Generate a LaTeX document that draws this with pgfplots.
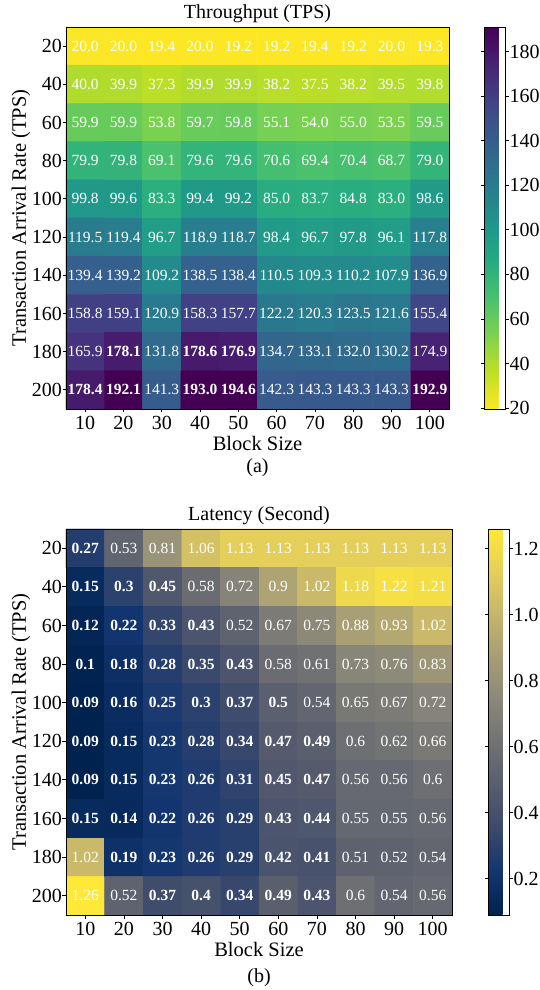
\documentclass[border=0pt]{standalone}
\usepackage{pgfplots}
\usepackage{pgfplotstable}
\usepackage{fontspec}
\setmainfont{Liberation Serif}
\pgfplotsset{compat=1.18}
\pgfkeys{/pgf/number format/assume math mode=true}

\pgfplotsset{
  colormap={viridisr}{rgb255=(253,231,37) rgb255=(189,223,38) rgb255=(122,209,81) rgb255=(68,191,112) rgb255=(34,168,132) rgb255=(33,145,140) rgb255=(42,120,142) rgb255=(53,95,141) rgb255=(65,68,135) rgb255=(72,36,117) rgb255=(68,1,84)},
  colormap={cividis}{rgb255=(0,34,78) rgb255=(18,53,112) rgb255=(59,73,108) rgb255=(87,93,109) rgb255=(112,113,115) rgb255=(138,135,121) rgb255=(166,157,117) rgb255=(196,181,108) rgb255=(228,207,91) rgb255=(254,232,56)},
  hm/.style={
    scale only axis,
    anchor=south west,
    xmin=5, xmax=105, ymin=-210, ymax=-10,
    enlargelimits=false,
    axis on top,
    xtick={10,20,30,40,50,60,70,80,90,100},
    ytick={-200,-180,-160,-140,-120,-100,-80,-60,-40,-20},
    yticklabels={200,180,160,140,120,100,80,60,40,20},
    tick pos=left,
    tick align=outside,
    major tick length=3.5pt,
    major tick style={black, line width=0.8pt},
    axis line style={black, line width=0.8pt},
    tick label style={font=\fontsize{20}{24}\selectfont, inner sep=0pt},
    xticklabel style={yshift=-3.2pt},
    yticklabel style={xshift=-0.5pt},
    label style={font=\fontsize{20.5}{24}\selectfont},
    every axis title shift=0pt,
    title style={font=\fontsize{20}{24}\selectfont, at={(axis description cs:0.5,1)}, anchor=base, yshift=8pt},
    xlabel={Block Size},
    ylabel={Transaction Arrival Rate (TPS)},
    colorbar,
  },
  cellnormal/.style={
    only marks, mark=*, mark size=0pt, mark options={draw=none, fill=none},
    point meta=explicit symbolic,
    restrict expr to domain={\thisrow{b}}{-0.5:0.5},
    nodes near coords,
    every node near coord/.append style={font=\fontsize{15.5}{18}\selectfont, text=white, anchor=center, inner sep=0pt},
  },
  cellbold/.style={
    only marks, mark=*, mark size=0pt, mark options={draw=none, fill=none},
    point meta=explicit symbolic,
    restrict expr to domain={\thisrow{b}}{0.5:1.5},
    nodes near coords,
    every node near coord/.append style={font=\fontsize{15.5}{18}\selectfont\bfseries, text=white, anchor=center, inner sep=0pt},
  },
}

\pgfplotstableread{
x y z b
10 -20 20.0 0
20 -20 20.0 0
30 -20 19.4 0
40 -20 20.0 0
50 -20 19.2 0
60 -20 19.2 0
70 -20 19.4 0
80 -20 19.2 0
90 -20 20.0 0
100 -20 19.3 0
10 -40 40.0 0
20 -40 39.9 0
30 -40 37.3 0
40 -40 39.9 0
50 -40 39.9 0
60 -40 38.2 0
70 -40 37.5 0
80 -40 38.2 0
90 -40 39.5 0
100 -40 39.8 0
10 -60 59.9 0
20 -60 59.9 0
30 -60 53.8 0
40 -60 59.7 0
50 -60 59.8 0
60 -60 55.1 0
70 -60 54.0 0
80 -60 55.0 0
90 -60 53.5 0
100 -60 59.5 0
10 -80 79.9 0
20 -80 79.8 0
30 -80 69.1 0
40 -80 79.6 0
50 -80 79.6 0
60 -80 70.6 0
70 -80 69.4 0
80 -80 70.4 0
90 -80 68.7 0
100 -80 79.0 0
10 -100 99.8 0
20 -100 99.6 0
30 -100 83.3 0
40 -100 99.4 0
50 -100 99.2 0
60 -100 85.0 0
70 -100 83.7 0
80 -100 84.8 0
90 -100 83.0 0
100 -100 98.6 0
10 -120 119.5 0
20 -120 119.4 0
30 -120 96.7 0
40 -120 118.9 0
50 -120 118.7 0
60 -120 98.4 0
70 -120 96.7 0
80 -120 97.8 0
90 -120 96.1 0
100 -120 117.8 0
10 -140 139.4 0
20 -140 139.2 0
30 -140 109.2 0
40 -140 138.5 0
50 -140 138.4 0
60 -140 110.5 0
70 -140 109.3 0
80 -140 110.2 0
90 -140 107.9 0
100 -140 136.9 0
10 -160 158.8 0
20 -160 159.1 0
30 -160 120.9 0
40 -160 158.3 0
50 -160 157.7 0
60 -160 122.2 0
70 -160 120.3 0
80 -160 123.5 0
90 -160 121.6 0
100 -160 155.4 0
10 -180 165.9 0
20 -180 178.1 1
30 -180 131.8 0
40 -180 178.6 1
50 -180 176.9 1
60 -180 134.7 0
70 -180 133.1 0
80 -180 132.0 0
90 -180 130.2 0
100 -180 174.9 0
10 -200 178.4 1
20 -200 192.1 1
30 -200 141.3 0
40 -200 193.0 1
50 -200 194.6 1
60 -200 142.3 0
70 -200 143.3 0
80 -200 143.3 0
90 -200 143.3 0
100 -200 192.9 1
}\tp

\pgfplotstableread{
x y z b
10 -20 0.27 1
20 -20 0.53 0
30 -20 0.81 0
40 -20 1.06 0
50 -20 1.13 0
60 -20 1.13 0
70 -20 1.13 0
80 -20 1.13 0
90 -20 1.13 0
100 -20 1.13 0
10 -40 0.15 1
20 -40 0.3 1
30 -40 0.45 1
40 -40 0.58 0
50 -40 0.72 0
60 -40 0.9 0
70 -40 1.02 0
80 -40 1.18 0
90 -40 1.22 0
100 -40 1.21 0
10 -60 0.12 1
20 -60 0.22 1
30 -60 0.33 1
40 -60 0.43 1
50 -60 0.52 0
60 -60 0.67 0
70 -60 0.75 0
80 -60 0.88 0
90 -60 0.93 0
100 -60 1.02 0
10 -80 0.1 1
20 -80 0.18 1
30 -80 0.28 1
40 -80 0.35 1
50 -80 0.43 1
60 -80 0.58 0
70 -80 0.61 0
80 -80 0.73 0
90 -80 0.76 0
100 -80 0.83 0
10 -100 0.09 1
20 -100 0.16 1
30 -100 0.25 1
40 -100 0.3 1
50 -100 0.37 1
60 -100 0.5 1
70 -100 0.54 0
80 -100 0.65 0
90 -100 0.67 0
100 -100 0.72 0
10 -120 0.09 1
20 -120 0.15 1
30 -120 0.23 1
40 -120 0.28 1
50 -120 0.34 1
60 -120 0.47 1
70 -120 0.49 1
80 -120 0.6 0
90 -120 0.62 0
100 -120 0.66 0
10 -140 0.09 1
20 -140 0.15 1
30 -140 0.23 1
40 -140 0.26 1
50 -140 0.31 1
60 -140 0.45 1
70 -140 0.47 1
80 -140 0.56 0
90 -140 0.56 0
100 -140 0.6 0
10 -160 0.15 1
20 -160 0.14 1
30 -160 0.22 1
40 -160 0.26 1
50 -160 0.29 1
60 -160 0.43 1
70 -160 0.44 1
80 -160 0.55 0
90 -160 0.55 0
100 -160 0.56 0
10 -180 1.02 0
20 -180 0.19 1
30 -180 0.23 1
40 -180 0.26 1
50 -180 0.29 1
60 -180 0.42 1
70 -180 0.41 1
80 -180 0.51 0
90 -180 0.52 0
100 -180 0.54 0
10 -200 1.26 0
20 -200 0.52 0
30 -200 0.37 1
40 -200 0.4 1
50 -200 0.34 1
60 -200 0.49 1
70 -200 0.43 1
80 -200 0.6 0
90 -200 0.54 0
100 -200 0.56 0
}\lat

\begin{document}
\begin{tikzpicture}
\useasboundingbox (0,0) rectangle (539pt,990pt);

\begin{axis}[hm,
  name=top,
  at={(66pt,581pt)},
  width=383pt, height=382pt,
  title={Throughput (TPS)},
  xlabel style={at={(axis description cs:0.5,-0.1086)}, anchor=base},
  ylabel style={at={(axis description cs:-0.1175,0.5)}, anchor=center},
  colormap name=viridisr,
  point meta min=19.6, point meta max=191,
  colorbar shift/.style={xshift=35pt},
  colorbar style={
    width=21pt,
    ytick={20,40,60,80,100,120,140,160,180},
    tick align=outside, major tick length=3.5pt,
    major tick style={black, line width=0.8pt},
    axis line style={black, line width=0.8pt},
    yticklabel style={font=\fontsize{20}{24}\selectfont, inner sep=0pt, xshift=0.5pt},
  },
]
\addplot[matrix plot*, mesh/cols=10, point meta=explicit] table[x=x, y=y, meta=z] {\tp};
\addplot[cellnormal] table[x=x, y=y, meta=z] {\tp};
\addplot[cellbold] table[x=x, y=y, meta=z] {\tp};
\end{axis}
\node[font=\fontsize{20}{24}\selectfont, anchor=center] at ([yshift=-59pt]top.south) {(a)};

\begin{axis}[hm,
  name=bot,
  at={(66pt,75pt)},
  width=386pt, height=386pt,
  title={Latency (Second)},
  xlabel style={at={(axis description cs:0.5,-0.1075)}, anchor=base},
  ylabel style={at={(axis description cs:-0.1166,0.5)}, anchor=center},
  colormap name=cividis,
  point meta min=0.09, point meta max=1.26,
  colorbar shift/.style={xshift=36pt},
  colorbar style={
    width=21pt,
    ytick={0.2,0.4,0.6,0.8,1.0,1.2},
    tick align=outside, major tick length=3.5pt,
    major tick style={black, line width=0.8pt},
    axis line style={black, line width=0.8pt},
    yticklabel style={font=\fontsize{20}{24}\selectfont, inner sep=0pt, xshift=0.5pt, /pgf/number format/.cd, fixed, fixed zerofill, precision=1},
  },
]
\addplot[matrix plot*, mesh/cols=10, point meta=explicit] table[x=x, y=y, meta=z] {\lat};
\addplot[cellnormal] table[x=x, y=y, meta=z] {\lat};
\addplot[cellbold] table[x=x, y=y, meta=z] {\lat};
\end{axis}
\node[font=\fontsize{20}{24}\selectfont, anchor=center] at ([yshift=-63pt]bot.south) {(b)};
\end{tikzpicture}
\end{document}
